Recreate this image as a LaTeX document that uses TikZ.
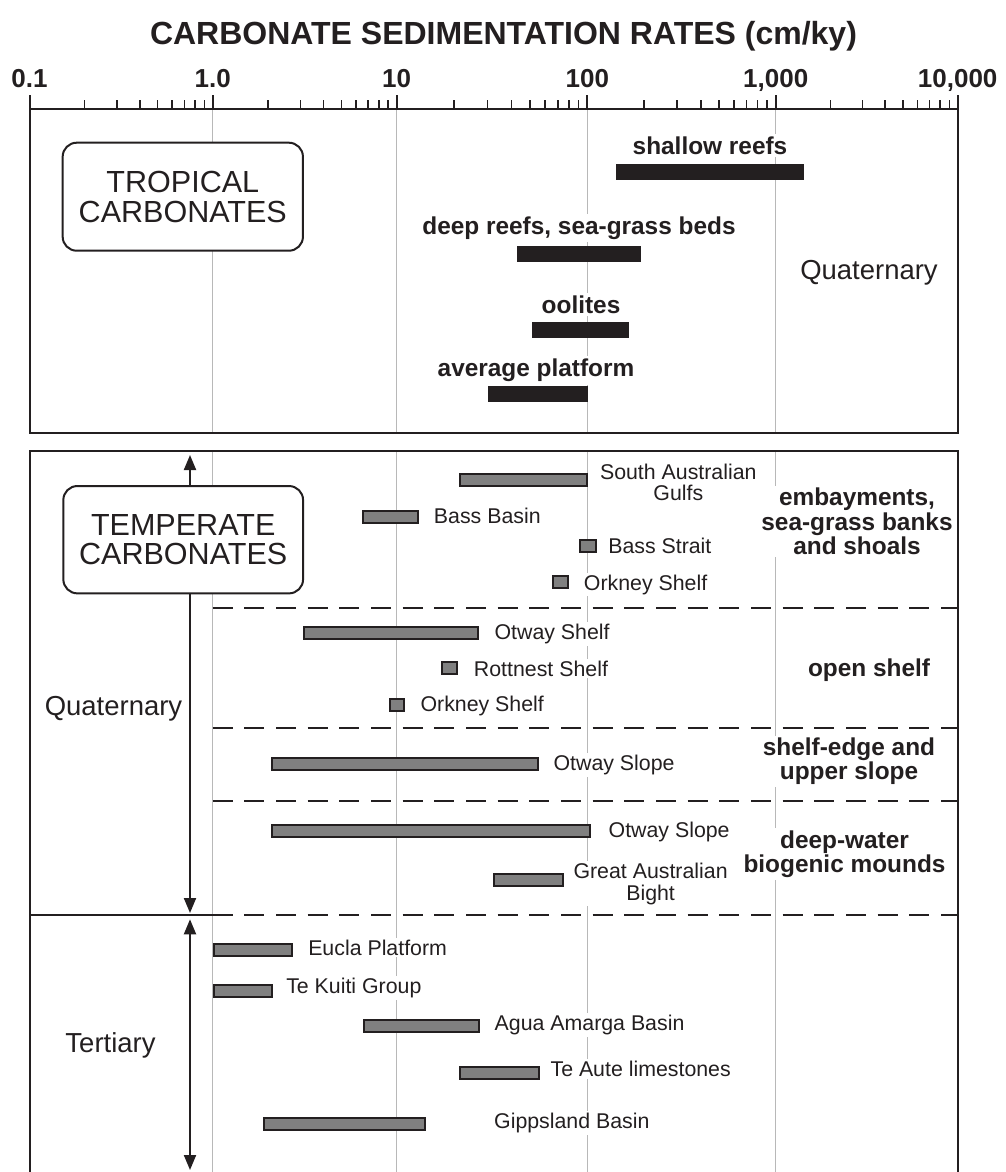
\documentclass[tikz,border=0pt]{standalone}
\usepackage{fontspec}
\setmainfont{Liberation Sans}
\usetikzlibrary{arrows.meta}
\definecolor{ink}{HTML}{231F20}
\definecolor{barfill}{HTML}{808080}
\definecolor{gridc}{HTML}{B8B8B8}
\newcommand\gbarr[3]{\path[graybar] (#1+1,#3-6) rectangle (#2-1,#3+6);}
\begin{document}
\begin{tikzpicture}[x=0.75pt,y=-0.75pt,
  frame/.style={draw=ink,line width=1.5pt},
  gridln/.style={draw=gridc,line width=0.8pt},
  sepline/.style={draw=ink,line width=1.5pt,dash pattern=on 15pt off 8.75pt},
  blackbar/.style={fill=ink,draw=none},
  graybar/.style={fill=barfill,draw=ink,line width=1.5pt},
  axlab/.style={font=\fontsize{19.5}{19.5}\selectfont\bfseries,text=ink,anchor=base,inner sep=0pt},
  toplab/.style={font=\fontsize{18.3}{18.3}\selectfont\bfseries,text=ink,anchor=base,fill=white,inner sep=2pt},
  cat/.style={font=\fontsize{18.3}{18.1}\selectfont\bfseries,text=ink,align=center,fill=white,inner sep=2pt},
  lab/.style={font=\fontsize{16}{16}\selectfont,text=ink,anchor=base west,fill=white,inner sep=1.5pt},
  labtwo/.style={font=\fontsize{16}{16.1}\selectfont,text=ink,align=center,fill=white,inner sep=1.5pt},
  era/.style={font=\fontsize{20.6}{20.6}\selectfont,text=ink,anchor=base,inner sep=1pt},
  catbox/.style={draw=ink,line width=1.5pt,fill=white,rounded corners=10.5pt,align=center,
    text=ink,inner sep=0pt,font=\fontsize{22.9}{22.3}\selectfont},
  arr/.style={draw=ink,line width=1.5pt,-{Triangle[length=11.25pt,width=9pt]}},
  arrtwo/.style={draw=ink,line width=1.5pt,{Triangle[length=11.25pt,width=9pt]}-{Triangle[length=11.25pt,width=9pt]}}
]
\useasboundingbox (0,0) rectangle (1006,1172);

% title
\node[font=\fontsize{24}{24}\selectfont\bfseries,text=ink,anchor=base,inner sep=0pt] (title) at (503.5,44) {CARBONATE SEDIMENTATION RATES (cm/ky)};

% grid lines
\foreach \x in {212.7,396.7,587.3,775.7} {
  \draw[gridln] (\x,109) -- (\x,433);
  \draw[gridln] (\x,450.7) -- (\x,1172);
}

% axis ticks
\foreach \a/\b in {29.5/212.7,212.7/396.7,396.7/587.3,587.3/775.7,775.7/957.7} {
  \foreach \k in {2,...,9} {
    \draw[frame,line width=1.2pt] ({\a+(\b-\a)*ln(\k)/ln(10)},100) -- ++(0,9);
  }
}
\foreach \x in {29.5,212.7,396.7,587.3,775.7,957.7} {
  \draw[frame] (\x,95) -- (\x,109);
}
\node[axlab] (a1) at (29.5,87) {0.1};
\node[axlab] (a2) at (212.7,87) {1.0};
\node[axlab] (a3) at (396.7,87) {10};
\node[axlab] (a4) at (587.3,87) {100};
\node[axlab] (a5) at (775.7,87) {1,000};
\node[axlab] (a6) at (957.7,87) {10,000};

% separators
\draw[sepline] (212.7,608.3) -- (957.7,608.3);
\draw[sepline] (212.7,727.7) -- (957.7,727.7);
\draw[sepline] (212.7,801) -- (957.7,801);
\draw[sepline] (212.7,914.7) -- (957.7,914.7);
\draw[frame] (29.5,914.7) -- (212.7,914.7);

% frames
\draw[frame] (29.5,109) rectangle (957.7,433);
\draw[frame] (29.5,1172) -- (29.5,450.7) -- (957.7,450.7) -- (957.7,1172);

% tropical bars and labels
\path[blackbar] (615.5,164) rectangle (803.5,180);
\path[blackbar] (517.2,246) rectangle (641,262);
\path[blackbar] (531.5,322) rectangle (628.5,338);
\path[blackbar] (488,386) rectangle (587.6,402);
\node[toplab] (shallow) at (710,154) {shallow reefs};
\node[toplab] (deep) at (579,234) {deep reefs, sea-grass beds};
\node[toplab] (ool) at (581,313) {oolites};
\node[toplab] (avg) at (536,376.7) {average platform};
\node[era] (quat1) at (869,279) {Quaternary};
\node[catbox,minimum width=180.2pt,minimum height=81pt] (trop) at (182.8,196.7) {TROPICAL\\CARBONATES};

% temperate bars
\gbarr{459.3}{588.3}{479.7}
\gbarr{361.7}{419.3}{516.7}
\gbarr{579}{596.7}{545.8}
\gbarr{551.7}{569}{582}
\gbarr{302.7}{479.3}{632.5}
\gbarr{440.7}{457.7}{668}
\gbarr{389}{405}{704.7}
\gbarr{271}{538.5}{763.7}
\gbarr{271}{591}{831.3}
\gbarr{493.2}{563.7}{880}
\gbarr{212.7}{293.3}{950.3}
\gbarr{212.7}{272.7}{990.7}
\gbarr{362.7}{480}{1025.5}
\gbarr{459.3}{540}{1072.5}
\gbarr{263.3}{426}{1124}

% temperate labels
\node[labtwo] (sag) at (678.3,482.4) {South Australian\\Gulfs};
\node[lab] (bassb) at (431.7,523.3) {Bass Basin};
\node[lab] (basss) at (606,553.3) {Bass Strait};
\node[lab] (ork1) at (581.7,590) {Orkney Shelf};
\node[lab] (otsh) at (492.3,639.3) {Otway Shelf};
\node[lab] (rott) at (471.7,676) {Rottnest Shelf};
\node[lab] (ork2) at (418.3,711.7) {Orkney Shelf};
\node[lab] (ots1) at (551.3,770.7) {Otway Slope};
\node[lab] (ots2) at (606.4,837.3) {Otway Slope};
\node[labtwo] (gab) at (650.6,883.8) {Great Australian\\Bight};
\node[lab] (eucla) at (306,955) {Eucla Platform};
\node[lab] (kuiti) at (284,993.3) {Te Kuiti Group};
\node[lab] (agua) at (492.4,1030.7) {Agua Amarga Basin};
\node[lab] (aute) at (548.3,1076.7) {Te Aute limestones};
\node[lab] (gipp) at (491.9,1128.3) {Gippsland Basin};

% category labels
\node[cat] (emb) at (857,521.4) {embayments,\\sea-grass banks\\and shoals};
\node[cat,anchor=base] (open) at (869,676) {open shelf};
\node[cat,font=\fontsize{18.3}{17.5}\selectfont\bfseries] (edge) at (849,761.3) {shelf-edge and\\upper slope};
\node[cat,font=\fontsize{18.3}{16.8}\selectfont\bfseries] (dw) at (844.5,854.2) {deep-water\\biogenic mounds};

% era arrows and labels
\coordinate (qtop) at (190,455);
\coordinate (qbot) at (190,913);
\coordinate (ttop) at (190,919.3);
\coordinate (tbot) at (190,1170);
\node[catbox,minimum width=179.8pt,minimum height=80.5pt] (temp) at (183.2,539.7) {TEMPERATE\\CARBONATES};
\draw[arr] (temp.north -| qtop) -- (qtop);
\draw[arr] (temp.south -| qbot) -- (qbot);
\draw[arrtwo] (ttop) -- (tbot);
\node[era] (quat2) at (113.5,715) {Quaternary};
\node[era] (tert) at (110.5,1052) {Tertiary};
\end{tikzpicture}
\end{document}
